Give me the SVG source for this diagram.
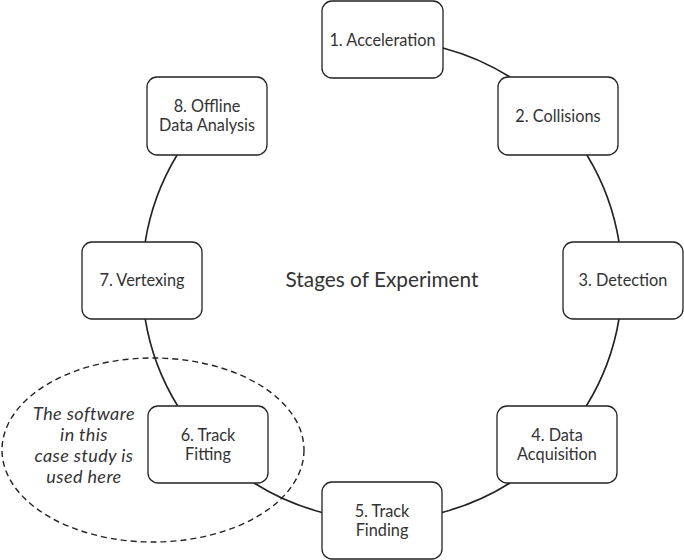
<svg xmlns="http://www.w3.org/2000/svg" width="684" height="560" viewBox="0 0 684 560">
<style>
.box{fill:#fff;stroke:#222;stroke-width:1.3}
.lbl{font-family:Lato,"Open Sans","Liberation Sans",sans-serif;font-size:16.3px;fill:#333;text-anchor:middle}
.conn{fill:none;stroke:#222;stroke-width:1.6}
.note{font-family:Lato,"Open Sans","Liberation Sans",sans-serif;font-size:18px;letter-spacing:0.4px;font-style:italic;fill:#333;text-anchor:middle}
.title{font-family:Lato,"Open Sans","Liberation Sans",sans-serif;font-size:20.8px;fill:#333;text-anchor:middle}
</style>
<rect width="684" height="560" fill="#fff"/>
<g id="connectors">
<path class="conn" d="M443,47.9 A240,240 0 0 1 510,77"/>
<path class="conn" d="M586.9,155 A240,240 0 0 1 619,242"/>
<path class="conn" d="M619,319 A240,240 0 0 1 586.3,406"/>
<path class="conn" d="M510,483 A240,240 0 0 1 442,512.4"/>
<path class="conn" d="M322,512.4 A240,240 0 0 1 254,483"/>
<path class="conn" d="M177.7,406 A240,240 0 0 1 145.2,319"/>
<path class="conn" d="M145.2,242 A240,240 0 0 1 177.1,155"/>
</g>
<g id="highlight">
<ellipse cx="153" cy="450" rx="151" ry="92" fill="none" stroke="#222" stroke-width="1.4" stroke-dasharray="6,4"/>
<text class="note" x="84" y="420">The software</text>
<text class="note" x="84" y="441">in this</text>
<text class="note" x="84" y="462">case study is</text>
<text class="note" x="84" y="483">used here</text>
</g>
<g id="title"><text class="title" x="382" y="287">Stages of Experiment</text></g>
<g id="n1"><rect class="box" x="322" y="1" width="121" height="77" rx="10"/><text class="lbl" x="382.5" y="45.5">1. Acceleration</text></g>
<g id="n2"><rect class="box" x="498" y="77" width="120" height="78" rx="10"/><text class="lbl" x="558" y="121.5">2. Collisions</text></g>
<g id="n3"><rect class="box" x="563" y="242" width="120" height="77" rx="10"/><text class="lbl" x="623" y="286">3. Detection</text></g>
<g id="n4"><rect class="box" x="497" y="406" width="120" height="77" rx="10"/><text class="lbl" x="557" y="441">4. Data</text><text class="lbl" x="557" y="459.5">Acquisition</text></g>
<g id="n5"><rect class="box" x="322" y="482" width="120" height="77" rx="10"/><text class="lbl" x="382" y="517">5. Track</text><text class="lbl" x="382" y="535.5">Finding</text></g>
<g id="n6"><rect class="box" x="148" y="406" width="120" height="77" rx="10"/><text class="lbl" x="208" y="441">6. Track</text><text class="lbl" x="208" y="459.5">Fitting</text></g>
<g id="n7"><rect class="box" x="82" y="242" width="120" height="77" rx="10"/><text class="lbl" x="142" y="286">7. Vertexing</text></g>
<g id="n8"><rect class="box" x="147" y="77" width="120" height="78" rx="10"/><text class="lbl" x="207" y="112">8. Offline</text><text class="lbl" x="207" y="130.5">Data Analysis</text></g>
</svg>
